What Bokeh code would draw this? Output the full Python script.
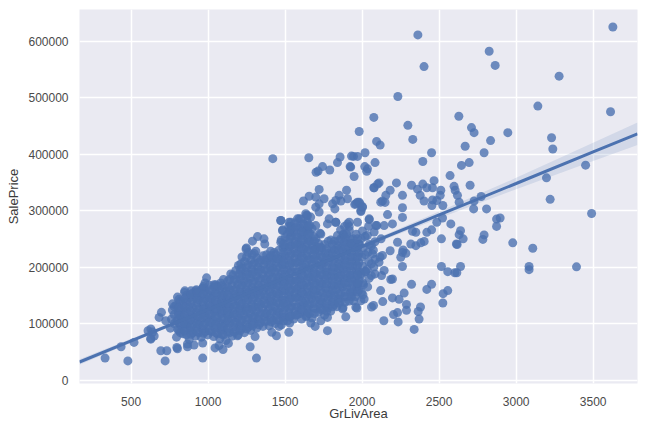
from bokeh.plotting import figure
from bokeh.embed import file_html
from bokeh.resources import INLINE
from bokeh.models import FixedTicker, Range1d, NumeralTickFormatter

x_ticks = [500, 1000, 1500, 2000, 2500, 3000, 3500]
y_ticks = [0, 100000, 200000, 300000, 400000, 500000, 600000]

# isolated houses read one by one
sparse_area = [3628,2362,2825,2864,2402,3279,2232,3141,3613,2076,2628,2297,2710,2727,2946,1981,2329,2834,3230,3238,
 2094,2117,2669,2792,2451,2019,2084,2394,2695,2645,3451,2571,3197,3221,3490,1944,1970,1926,1948,2017,2035,2030,2110,
 2076,2223,2321,2394,2467,2701,2597,2604,2619,2511,2420,2457,2360,2182,2154,2262,2377,2507,2132,2149,2402,2457,2485,
 2453,2524,2262,2630,2727,2773,2724,2808,1970,1987,2002,1952,2896,2873,2873,2639,2656,2630,2792,2784,2515,2617,2612,
 2978,3108,3084,3084,3392,2515,2556,2639,2615,2602,2451,2420,2556,2526,2524,2321,2273,2240,2288,2288,2379,2364,2370,
 2338,2230,2204,2234,2141,2120,2134,2197,2074,2061,2197,2186,2262,2143,2126,2084,2013,1992,1966,1944,2009,1970,2024,
 1992,2349,2381,2403,2420,2451,2485,2522,2576,2262,2284,2251,2266,2316,2349,2327,2262,2197,2165,2096,2046,1992,2143,
 2230,2182,2132,2110,2067,1420,1654,1857,1840,1931,1701,1743,1790,1714,1922,2078,2100,1721,1656,1619,1699,1721,1753,
 1699,1721,1899,1851,1905,1829,1808,1862,1823,1981,1959,2002,1992,2121,1472,1526,1591,1634,1666,1537,1623,1699,1786,
 1829,1916,1970,2046,2089,1916]
sparse_price = [625000,611000,582000,557000,555000,538000,502000,485000,475000,465000,467000,451000,447000,438000,438000,440000,426000,424000,429000,409000,
 422500,416000,414000,402500,402500,402500,385000,387000,385000,380000,380500,362000,358000,320000,295000,396000,396000,377000,360500,378000,374000,369500,349000,
 340500,349000,345000,347000,353000,345000,343000,336000,327000,336000,340500,340500,338000,336000,327000,327000,327000,327000,317000,314500,317000,319000,318000,
 309000,309000,305000,315000,317000,325000,303000,303000,315000,312000,307000,311000,287000,285000,272000,264500,250000,257500,257000,249000,250000,240000,241000,
 243000,233500,201000,195500,200500,201000,192000,201000,190000,190000,169500,160500,158500,153000,136500,169500,154000,143000,134000,123500,129500,121500,108000,
 89700,119500,116000,103000,105000,158500,139000,145500,132000,129500,179000,178000,201000,194000,185000,188000,143500,140500,127500,140500,169000,170000,192500,
 188000,238000,243000,245500,261500,266000,279500,287000,276500,226000,224500,217500,230500,241000,261500,263500,288000,276500,293000,273500,285500,298500,273500,
 244000,229000,220500,208500,223500,392000,393500,395000,385000,396500,368000,378000,372000,370000,378000,340500,347000,337500,325500,317000,324000,312000,321000,
 306000,297500,336000,327000,321000,318000,312000,317000,303000,315000,312000,306000,300000,315000,282500,279500,285500,294500,288500,272000,276500,273500,285500,
 279500,279500,279500,284000,273500,272000]

# the low and left fringe of the cloud
fringe_area = [331,479,435,519,628,628,610,693,732,721,797,801,866,866,909,965,965,1045,1071,1097,1132,1191,1273,1314,1305,1414,1444,1461,1524,1530,
 1775,1695,1667,1607,1639,1732,1775,1873,1894,1959,628,682,697,725,769,849,920,967,990,1039,1147,1212,1321,1288,1249,1363,1368,1310,1429,1472,
 1472,1537,1580,1645,1483,1537,1645,1732,1775,1829,1905,1840,1879,1926,1981,640,650,1700,2005,2060]
fringe_price = [39000,34000,59000,66700,73800,90400,87400,52000,52000,34000,57800,55500,64000,59000,62000,65500,39000,57000,61000,54000,65000,78500,59000,39000,77000,84500,78500,95000,84500,101000,
 87500,95000,101000,108000,114000,105000,111000,126000,112000,129000,72500,111000,120000,105000,135000,158000,158000,163000,181000,169000,188000,205500,254000,246000,234000,250000,241000,228000,226000,244000,
 282500,279500,285500,291000,264500,261500,264500,258500,276500,279500,276500,256000,257500,241000,241000,85000,78000,232000,151000,185000]

# the dense core, read strip by strip
core_area = [755,762,768,795,803,798,806,792,801,838,845,833,842,836,847,878,884,872,886,875,881,889,918,926,914,922,929,917,924,
 956,964,952,961,968,955,963,998,1004,993,1006,1001,995,1007,1036,1044,1031,1042,1047,1034,1041,1076,1085,1072,1083,1078,1087,1074,1082,
 1116,1124,1113,1126,1118,1122,1114,1127,1156,1165,1153,1163,1158,1167,1155,1162,1196,1205,1193,1203,1198,1207,1194,1202,1197,
 1236,1245,1233,1243,1238,1247,1234,1242,1237,1246,1276,1285,1273,1283,1278,1287,1274,1282,1277,1286,1316,1325,1313,1323,1318,1327,1314,1322,1317,
 1356,1365,1353,1363,1358,1367,1354,1362,1357,1396,1405,1393,1403,1398,1407,1394,1402,1397,1406,1436,1445,1433,1443,1438,1447,1434,1442,1437,
 1476,1485,1473,1483,1478,1487,1474,1482,1477,1486,1475,1484,1516,1525,1513,1523,1518,1527,1514,1522,1517,1526,1515,1524,
 1556,1565,1553,1563,1558,1567,1554,1562,1557,1566,1555,1564,1596,1605,1593,1603,1598,1607,1594,1602,1597,1606,1595,1604,
 1636,1645,1633,1643,1638,1647,1634,1642,1637,1646,1635,1644,1639,1676,1685,1673,1683,1678,1687,1674,1682,1677,1686,1675,
 1716,1725,1713,1723,1718,1727,1714,1722,1717,1726,1756,1765,1753,1763,1758,1767,1754,1762,1757,
 1796,1805,1793,1803,1798,1807,1794,1802,1797,1836,1845,1833,1843,1838,1847,1834,1842,
 1876,1885,1873,1883,1878,1887,1874,1882,1877,1886,1916,1925,1913,1923,1918,1927,1914,1922,1917,
 1956,1965,1953,1963,1958,1967,1954,1962,1996,2005,1993,2003,1998,2007,1994,2002,
 2036,2045,2033,2043,2038,2047,2034,2042,2076,2085,2073,2083,2078,2116,2123]
core_price = [92000,108000,124000,76000,90000,105000,118000,132000,147000,82000,97000,112000,125000,140000,155000,72000,88000,100000,116000,130000,146000,158000,78000,93000,108000,120000,136000,150000,160000,
 76000,90000,104000,118000,133000,147000,162000,80000,95000,110000,124000,138000,152000,168000,77000,92000,107000,121000,135000,149000,165000,73000,88000,102000,118000,130000,145000,160000,172000,
 70000,85000,100000,115000,128000,143000,157000,175000,78000,94000,108000,123000,138000,152000,167000,186000,80000,96000,110000,126000,140000,156000,170000,188000,203000,
 84000,99000,115000,129000,145000,160000,175000,192000,210000,232000,88000,103000,118000,134000,150000,164000,180000,196000,212000,222000,92000,108000,122000,138000,153000,168000,184000,200000,216000,
 95000,112000,127000,142000,158000,172000,188000,205000,220000,96000,110000,125000,140000,156000,170000,186000,200000,216000,228000,100000,115000,130000,146000,160000,175000,192000,208000,222000,
 98000,112000,128000,142000,158000,174000,188000,204000,218000,234000,248000,266000,105000,120000,134000,150000,165000,180000,195000,212000,228000,244000,258000,272000,
 108000,122000,138000,154000,168000,184000,200000,216000,232000,246000,262000,278000,118000,132000,148000,162000,178000,194000,210000,225000,240000,256000,270000,285000,
 112000,126000,140000,156000,172000,188000,204000,220000,236000,250000,266000,280000,292000,110000,128000,144000,160000,176000,190000,206000,222000,238000,254000,268000,
 120000,135000,150000,166000,180000,196000,212000,228000,242000,260000,115000,130000,146000,162000,178000,192000,208000,224000,240000,
 122000,138000,152000,168000,184000,200000,216000,232000,248000,130000,144000,160000,176000,190000,206000,222000,238000,
 128000,148000,165000,180000,196000,212000,228000,244000,258000,272000,140000,155000,172000,186000,202000,218000,234000,250000,265000,
 148000,165000,178000,194000,210000,226000,242000,258000,155000,172000,186000,202000,218000,234000,250000,264000,
 165000,180000,196000,210000,226000,240000,256000,272000,200000,214000,230000,245000,262000,218000,250000]

# more of the solid core, read strip by strip between the strips above
strip_area = [780,820,860,900,940,980,1020,1060,1100,1140,1180,1220,1260,1300,1340,1380,1420,1460,1500,1540,1580,1620,1660,1700,1740,1780,1820,1860,1900,1940,1980,2020,2060,
 810,850,890,930,970,1010,1050,1090,1130,1170,1210,1250,1290,1330,1370,1410,1450,1490,1530,1570,1610,1650,1690,1730,1770,1810,1850,1890,1930,1970]
strip_prices = [
 [100000,116000,130000],
 [84000,98000,112000,126000,140000],
 [80000,94000,108000,122000,138000,150000],
 [84000,98000,112000,128000,142000,154000],
 [84000,98000,112000,126000,142000,156000],
 [86000,100000,114000,128000,144000,158000,172000],
 [86000,102000,116000,130000,144000,158000],
 [82000,96000,110000,124000,138000,152000,166000],
 [80000,94000,108000,122000,136000,150000,164000,178000],
 [84000,100000,116000,130000,146000,160000,178000],
 [88000,102000,116000,132000,148000,162000,178000,194000],
 [92000,106000,122000,136000,152000,168000,184000,198000,218000],
 [94000,110000,126000,142000,156000,172000,188000,204000,226000],
 [100000,114000,130000,146000,160000,176000,192000,208000,224000],
 [102000,118000,134000,150000,164000,180000,196000,212000],
 [104000,118000,134000,148000,164000,178000,194000,210000,222000],
 [106000,122000,138000,152000,168000,182000,198000,214000],
 [106000,120000,136000,152000,166000,182000,198000,214000,230000],
 [112000,128000,142000,158000,172000,188000,204000,220000,236000,252000],
 [114000,130000,146000,160000,176000,192000,208000,224000,238000,254000,268000],
 [116000,130000,146000,162000,176000,192000,208000,224000,240000,254000,270000],
 [122000,136000,152000,168000,184000,200000,216000,232000,248000,262000,276000],
 [118000,134000,150000,166000,182000,198000,214000,230000,246000,260000,274000],
 [126000,142000,158000,172000,188000,204000,220000,236000,250000],
 [124000,138000,154000,170000,186000,202000,218000,234000],
 [128000,144000,160000,176000,192000,208000,224000,246000],
 [134000,150000,166000,182000,198000,214000,230000,246000],
 [140000,154000,170000,186000,202000,218000,234000,250000,266000],
 [148000,164000,180000,194000,210000,226000,242000,258000],
 [156000,170000,186000,202000,218000,234000,250000],
 [160000,176000,192000,208000,224000,240000],
 [192000,222000,254000],
 [206000,238000],
 [88000,102000,115000,129000,143000],
 [87000,101000,115000,130000,145000],
 [81000,94000,107000,122000,137000,152000],
 [85000,100000,114000,128000,143000,155000],
 [83000,97000,111000,125000,139000,153000,166000],
 [88000,103000,117000,131000,146000,160000],
 [84000,99000,113000,127000,141000,155000,169000],
 [81000,95000,110000,124000,137000,151000,167000],
 [92000,107000,122000,136000,151000,165000],
 [85000,101000,116000,130000,145000,159000,176000],
 [88000,103000,118000,133000,148000,163000,179000,195000],
 [91000,107000,122000,137000,152000,167000,183000,199000,218000],
 [96000,111000,126000,142000,157000,172000,188000,204000],
 [98000,113000,129000,145000,160000,176000,192000,208000],
 [104000,119000,135000,150000,165000,180000,196000,212000],
 [103000,118000,132000,148000,163000,178000,193000,208000,220000],
 [108000,123000,138000,153000,168000,184000,200000,215000],
 [105000,120000,135000,150000,166000,181000,196000,211000,226000,241000],
 [112000,127000,142000,157000,172000,188000,203000,219000,236000,251000,264000],
 [115000,130000,146000,161000,176000,192000,208000,224000,239000,254000,270000],
 [125000,140000,155000,170000,186000,202000,218000,233000,248000,263000],
 [119000,133000,148000,164000,180000,196000,212000,228000,243000,258000,273000],
 [118000,136000,152000,168000,183000,198000,214000,230000,246000],
 [127000,142000,158000,173000,188000,204000,220000,235000],
 [122000,137000,153000,170000,185000,200000,216000,232000],
 [130000,145000,160000,176000,192000,208000,224000,240000],
 [137000,152000,168000,183000,198000,214000,230000,246000],
 [138000,156000,172000,188000,204000,220000,236000,252000],
 [148000,163000,179000,194000,210000,226000,242000],
 [156000,172000,186000,202000,218000,234000,250000],
]

# fitted line and its band
fit_area = [165, 500, 1000, 1500, 2000, 2500, 3000, 3500, 3788]
fit_price = [32000, 69500, 125000, 181000, 236500, 292500, 348000, 404000, 436000]
band_low = [27000, 66000, 123000, 178500, 233000, 286500, 338000, 388000, 416000]
band_high = [37000, 73000, 127000, 183500, 240000, 298500, 358000, 420000, 456000]

p = figure(frame_width=558, frame_height=374, output_backend="svg", toolbar_location=None,
           x_range=Range1d(165, 3788), y_range=Range1d(-6000, 656000),
           x_axis_label="GrLivArea", y_axis_label="SalePrice",
           min_border_left=79, min_border_right=8, min_border_top=9, min_border_bottom=40,
           background_fill_color="#EAEAF2", border_fill_color="white")
p.outline_line_color = None

for ax, ticks in ((p.xaxis[0], x_ticks), (p.yaxis[0], y_ticks)):
    ax.ticker = FixedTicker(ticks=ticks)
    ax.formatter = NumeralTickFormatter(format="0")
    ax.axis_line_color = None
    ax.major_tick_line_color = None
    ax.minor_tick_line_color = None
    ax.major_label_text_color = "#4a4a4a"
    ax.major_label_text_font = "Liberation Sans"
    ax.major_label_text_font_size = "12px"
    ax.axis_label_text_color = "#3a3a3a"
    ax.axis_label_text_font = "Liberation Sans"
    ax.axis_label_text_font_size = "13px"
    ax.axis_label_text_font_style = "normal"
p.xaxis[0].major_label_standoff = 7
p.xaxis[0].axis_label_standoff = -3
p.yaxis[0].major_label_standoff = 5
p.yaxis[0].axis_label_standoff = 4
p.yaxis[0].major_label_orientation = "horizontal"

for g in (p.xgrid[0], p.ygrid[0]):
    g.grid_line_color = "white"
    g.grid_line_width = 1.5
p.xgrid[0].ticker = FixedTicker(ticks=x_ticks)
p.ygrid[0].ticker = FixedTicker(ticks=y_ticks)

strip_x = [a for a, prices in zip(strip_area, strip_prices) for _ in prices]
strip_y = [v for prices in strip_prices for v in prices]
for xs, ys in ((sparse_area, sparse_price), (fringe_area, fringe_price), (core_area, core_price), (strip_x, strip_y)):
    p.scatter(xs, ys, size=9, color="#4C72B0", alpha=0.8, line_color=None)

p.varea(fit_area, band_low, band_high, fill_color="#4C72B0", fill_alpha=0.15)
p.line(fit_area, fit_price, line_color="#4C72B0", line_width=3)

open("out.html", "w").write(file_html(p, INLINE))
